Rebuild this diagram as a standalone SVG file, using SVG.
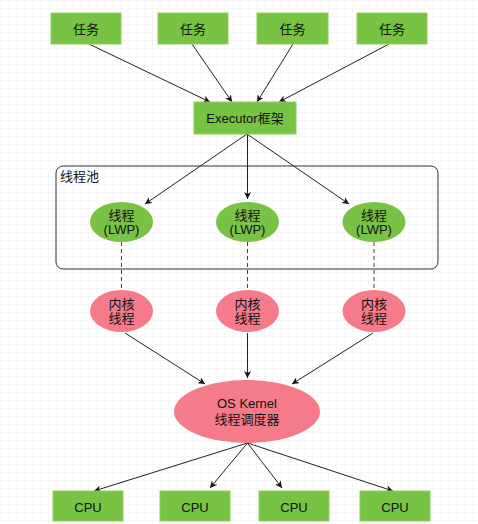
<svg xmlns="http://www.w3.org/2000/svg" width="478" height="524" viewBox="0 0 478 524">
<defs>
<pattern id="grid" width="8" height="8" patternUnits="userSpaceOnUse">
<path d="M8 0H0V8" fill="none" stroke="#efefef" stroke-width="1"/>
</pattern>
<marker id="arr" viewBox="0 0 10 10" refX="10" refY="5" markerWidth="7" markerHeight="7" orient="auto" markerUnits="userSpaceOnUse">
<path d="M0,0 L10,5 L0,10 L3,5 z" fill="#111"/>
</marker>
<style>
.box{fill:#78c244;stroke:#8fd05c;stroke-width:1}
.gel{fill:#78c244}
.pel{fill:#f57a8a}
.t{font-family:"Liberation Sans","Noto Sans CJK SC",sans-serif;font-size:13px;fill:#111;text-anchor:middle;dominant-baseline:central}
.e{stroke:#222;stroke-width:1;fill:none;marker-end:url(#arr)}
.d{stroke:#444;stroke-width:1;fill:none;stroke-dasharray:4,3}
</style>
</defs>
<rect width="478" height="524" fill="#fff"/>
<rect width="478" height="524" fill="url(#grid)"/>

<g id="pool">
<rect x="56" y="166" width="382" height="103" rx="7" fill="none" stroke="#333" stroke-width="1"/>
<text class="t" x="60" y="176" style="text-anchor:start">线程池</text>
</g>

<g id="connectors">
<line class="e" x1="89" y1="44" x2="210" y2="102"/>
<line class="e" x1="192" y1="44" x2="232" y2="102"/>
<line class="e" x1="293" y1="44" x2="257" y2="102"/>
<line class="e" x1="389" y1="44" x2="279" y2="102"/>
<line class="e" x1="247" y1="134" x2="145" y2="204"/>
<line class="e" x1="247.5" y1="134" x2="247.5" y2="199"/>
<line class="e" x1="247" y1="134" x2="349" y2="204"/>
<line class="d" x1="121.5" y1="242" x2="121.5" y2="290"/>
<line class="d" x1="247.5" y1="242" x2="247.5" y2="290"/>
<line class="d" x1="374" y1="242" x2="374" y2="290"/>
<line class="e" x1="125" y1="333" x2="205" y2="384"/>
<line class="e" x1="247.5" y1="333" x2="247.5" y2="378"/>
<line class="e" x1="373" y1="333" x2="292" y2="384"/>
<line class="e" x1="247.5" y1="443" x2="94" y2="491"/>
<line class="e" x1="247.5" y1="443" x2="210" y2="488"/>
<line class="e" x1="247.5" y1="443" x2="282" y2="488"/>
<line class="e" x1="247.5" y1="443" x2="393" y2="491"/>
</g>

<g id="task1"><rect class="box" x="51" y="13" width="70" height="31"/><text class="t" x="86" y="29">任务</text></g>
<g id="task2"><rect class="box" x="158" y="13" width="70" height="31"/><text class="t" x="193" y="29">任务</text></g>
<g id="task3"><rect class="box" x="257" y="13" width="71" height="31"/><text class="t" x="292.5" y="29">任务</text></g>
<g id="task4"><rect class="box" x="357" y="13" width="70" height="31"/><text class="t" x="392" y="29">任务</text></g>

<g id="executor"><rect class="box" x="194" y="102" width="102" height="32"/><text class="t" x="245" y="118">Executor框架</text></g>

<g id="thread1"><ellipse class="gel" cx="121.5" cy="222" rx="31.5" ry="20"/><text class="t" x="121.5" y="215">线程</text><text class="t" x="121.5" y="229">(LWP)</text></g>
<g id="thread2"><ellipse class="gel" cx="247.5" cy="222" rx="31.5" ry="20"/><text class="t" x="247.5" y="215">线程</text><text class="t" x="247.5" y="229">(LWP)</text></g>
<g id="thread3"><ellipse class="gel" cx="374" cy="222" rx="31.5" ry="20"/><text class="t" x="374" y="215">线程</text><text class="t" x="374" y="229">(LWP)</text></g>

<g id="kthread1"><ellipse class="pel" cx="121.5" cy="311" rx="31.5" ry="21"/><text class="t" x="121.5" y="304">内核</text><text class="t" x="121.5" y="318">线程</text></g>
<g id="kthread2"><ellipse class="pel" cx="247.5" cy="311" rx="31.5" ry="21"/><text class="t" x="247.5" y="304">内核</text><text class="t" x="247.5" y="318">线程</text></g>
<g id="kthread3"><ellipse class="pel" cx="374" cy="311" rx="31.5" ry="21"/><text class="t" x="374" y="304">内核</text><text class="t" x="374" y="318">线程</text></g>

<g id="kernel"><ellipse class="pel" cx="247" cy="411.5" rx="73" ry="31.5"/><text class="t" x="247" y="403">OS Kernel</text><text class="t" x="247" y="419">线程调度器</text></g>

<g id="cpu1"><rect class="box" x="53" y="491" width="70" height="30"/><text class="t" x="88" y="507">CPU</text></g>
<g id="cpu2"><rect class="box" x="160" y="491" width="70" height="30"/><text class="t" x="195" y="507">CPU</text></g>
<g id="cpu3"><rect class="box" x="259" y="491" width="70" height="30"/><text class="t" x="294" y="507">CPU</text></g>
<g id="cpu4"><rect class="box" x="360" y="491" width="70" height="30"/><text class="t" x="395" y="507">CPU</text></g>
</svg>
